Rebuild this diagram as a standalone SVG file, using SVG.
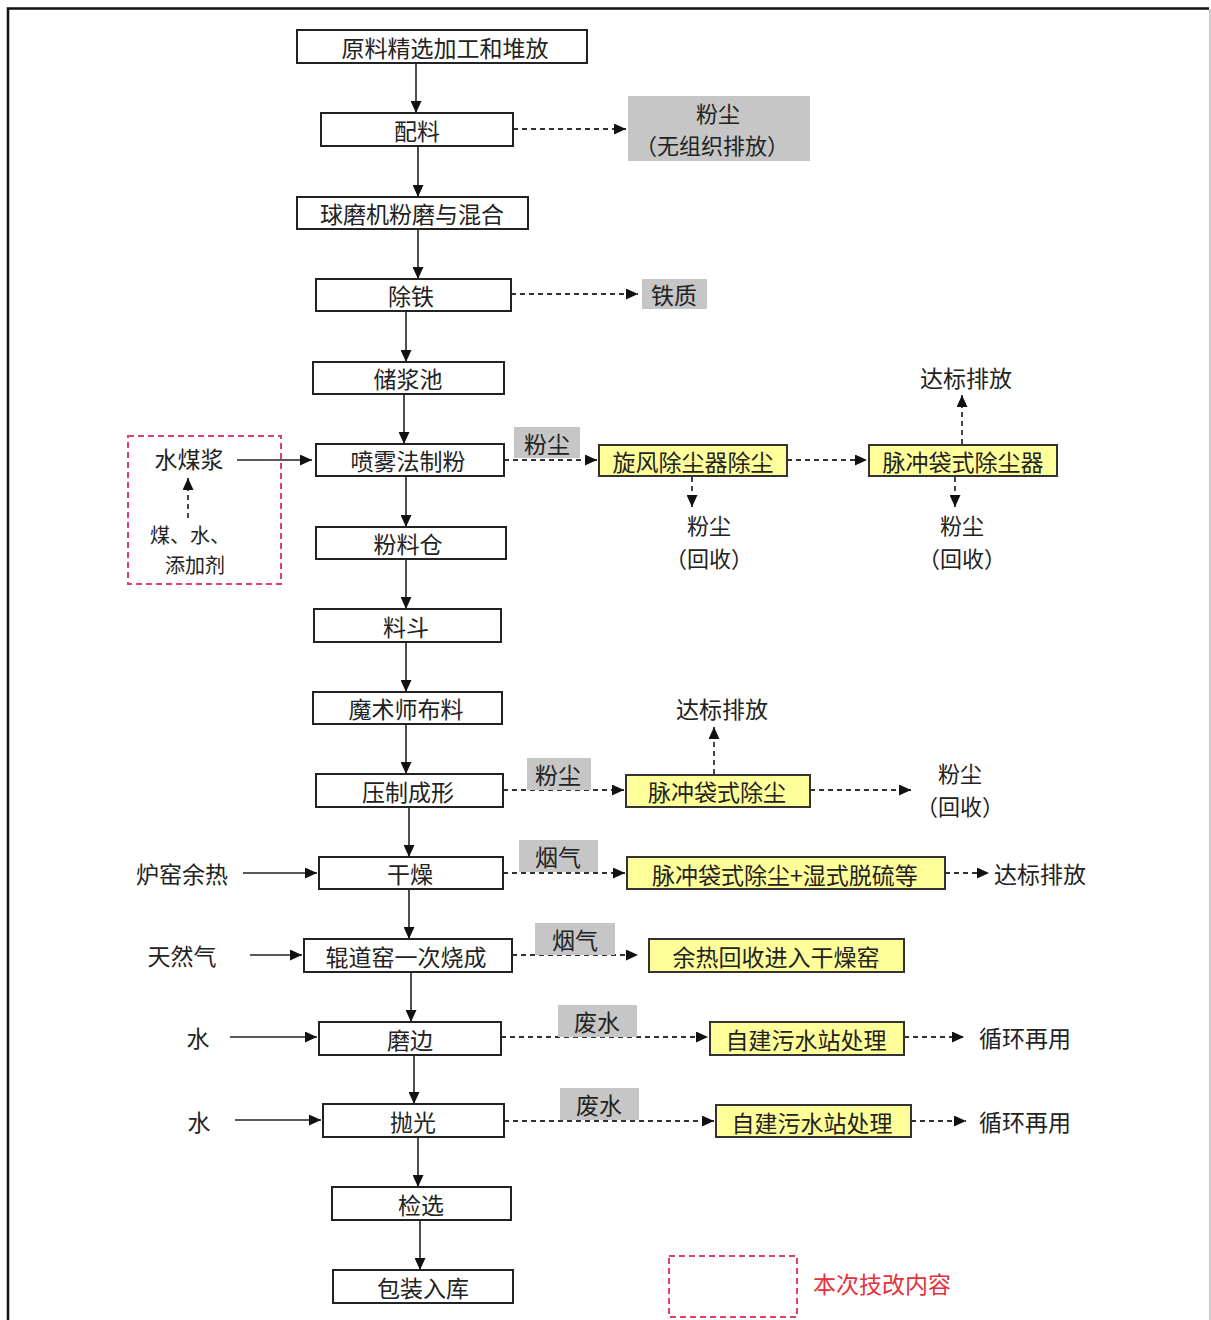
<svg xmlns="http://www.w3.org/2000/svg" width="1211" height="1320" viewBox="0 0 1211 1320">
<defs>
<marker id="ah" markerUnits="userSpaceOnUse" markerWidth="12" markerHeight="11" refX="12" refY="5.5" orient="auto">
<path d="M0,0 L12,5.5 L0,11 z" fill="#111"/>
</marker>
<style>
text{font-family:"Noto Sans CJK SC","Noto Sans",sans-serif;font-size:23px;fill:#222;text-anchor:middle;dominant-baseline:central}
.sm{font-size:20px}
.md{font-size:22px}
.box{fill:#fff;stroke:#222;stroke-width:2}
.yel{fill:#ffff99;stroke:#333;stroke-width:2}
.gray{fill:#c6c6c6;stroke:none}
.sol{stroke:#222;stroke-width:1.6;fill:none;marker-end:url(#ah)}
.dash{stroke:#333;stroke-width:1.8;fill:none;stroke-dasharray:5 4;marker-end:url(#ah)}
.red{fill:none;stroke:#e0406a;stroke-width:2;stroke-dasharray:6 4}
.redt{fill:#e8303a}
</style>
</defs>
<rect width="1211" height="1320" fill="#fff"/>
<path d="M8,1320 V8.5 H1209" fill="none" stroke="#111" stroke-width="2.5"/>
<path d="M1210,9 V1320" fill="none" stroke="#bbb" stroke-width="1.5"/>

<g id="connectors">
<path class="sol" d="M416,63 V113"/>
<path class="sol" d="M418,146 V197"/>
<path class="sol" d="M418,229 V279"/>
<path class="sol" d="M406,311 V362"/>
<path class="sol" d="M404,394 V444"/>
<path class="sol" d="M406,476 V527"/>
<path class="sol" d="M406,559 V609"/>
<path class="sol" d="M406,642 V692"/>
<path class="sol" d="M406,724 V774"/>
<path class="sol" d="M409,807 V857"/>
<path class="sol" d="M409,889 V939"/>
<path class="sol" d="M411,972 V1022"/>
<path class="sol" d="M414,1055 V1104"/>
<path class="sol" d="M418,1137 V1187"/>
<path class="sol" d="M420,1220 V1270"/>
<path class="dash" d="M513,129 H626"/>
<path class="dash" d="M511,294 H638"/>
<path class="sol" d="M237,460 H312"/>
<path class="dash" d="M188,518 V478"/>
<path class="dash" d="M504,460 H597"/>
<path class="dash" d="M787,460 H867"/>
<path class="dash" d="M962,444 V395"/>
<path class="dash" d="M692,477 V507"/>
<path class="dash" d="M955,477 V507"/>
<path class="dash" d="M503,790 H624"/>
<path class="dash" d="M714,774 V727"/>
<path class="dash" d="M810,790 H911"/>
<path class="sol" d="M243,873 H317"/>
<path class="dash" d="M503,873 H625"/>
<path class="dash" d="M945,873 H989"/>
<path class="sol" d="M250,955 H302"/>
<path class="dash" d="M512,955 H638"/>
<path class="sol" d="M230,1037 H317"/>
<path class="dash" d="M501,1037 H708"/>
<path class="dash" d="M904,1037 H964"/>
<path class="sol" d="M235,1120 H321"/>
<path class="dash" d="M504,1121 H714"/>
<path class="dash" d="M911,1121 H966"/>
</g>

<g id="n1"><rect class="box" x="297" y="30" width="290" height="33"/><text x="445" y="46.5">原料精选加工和堆放</text></g>
<g id="n2"><rect class="box" x="321" y="113" width="192" height="33"/><text x="417" y="129.5">配料</text></g>
<g id="n3"><rect class="box" x="297" y="197" width="231" height="32"/><text x="412" y="213">球磨机粉磨与混合</text></g>
<g id="n4"><rect class="box" x="316" y="279" width="195" height="32"/><text x="411" y="295">除铁</text></g>
<g id="n5"><rect class="box" x="313" y="362" width="191" height="32"/><text x="408" y="378">储浆池</text></g>
<g id="n6"><rect class="box" x="316" y="444" width="188" height="32"/><text x="408" y="460">喷雾法制粉</text></g>
<g id="n7"><rect class="box" x="316" y="527" width="190" height="32"/><text x="408" y="543">粉料仓</text></g>
<g id="n8"><rect class="box" x="314" y="609" width="187" height="33"/><text x="406" y="625.5">料斗</text></g>
<g id="n9"><rect class="box" x="313" y="692" width="189" height="32"/><text x="406" y="708">魔术师布料</text></g>
<g id="n10"><rect class="box" x="316" y="774" width="187" height="33"/><text x="408" y="790.5">压制成形</text></g>
<g id="n11"><rect class="box" x="319" y="857" width="184" height="32"/><text x="410" y="873">干燥</text></g>
<g id="n12"><rect class="box" x="304" y="939" width="208" height="33"/><text x="406" y="955.5">辊道窑一次烧成</text></g>
<g id="n13"><rect class="box" x="319" y="1022" width="182" height="33"/><text x="410" y="1038.5">磨边</text></g>
<g id="n14"><rect class="box" x="323" y="1104" width="181" height="33"/><text x="413" y="1120.5">抛光</text></g>
<g id="n15"><rect class="box" x="332" y="1187" width="179" height="33"/><text x="421" y="1203.5">检选</text></g>
<g id="n16"><rect class="box" x="333" y="1270" width="180" height="33"/><text x="423" y="1286.5">包装入库</text></g>

<g id="dust1"><rect class="gray" x="628" y="96" width="182" height="65"/><text class="md" x="718" y="112">粉尘</text><text class="md" x="712" y="144">（无组织排放）</text></g>
<g id="iron"><rect class="gray" x="642" y="279" width="65" height="30"/><text x="674" y="294">铁质</text></g>

<g id="slurry"><rect class="red" x="128" y="436" width="153" height="148"/><text x="189" y="458">水煤浆</text><text class="sm" x="190" y="534">煤、水、</text><text class="sm" x="195" y="564">添加剂</text></g>

<g id="dust2"><rect class="gray" x="514" y="427" width="66" height="31"/><text x="547" y="443">粉尘</text></g>
<g id="cyclone"><rect class="yel" x="599" y="445" width="188" height="31"/><text x="693" y="461">旋风除尘器除尘</text></g>
<g id="bag1"><rect class="yel" x="869" y="445" width="188" height="31"/><text x="963" y="461">脉冲袋式除尘器</text></g>
<g id="out1"><text x="966" y="377">达标排放</text></g>
<g id="rec1"><text class="md" x="709" y="524">粉尘</text><text class="md" x="709" y="557">（回收）</text></g>
<g id="rec2"><text class="md" x="962" y="524">粉尘</text><text class="md" x="962" y="557">（回收）</text></g>

<g id="dust3"><rect class="gray" x="527" y="758" width="64" height="32"/><text x="558" y="774">粉尘</text></g>
<g id="bag2"><rect class="yel" x="626" y="775" width="184" height="32"/><text x="717" y="791">脉冲袋式除尘</text></g>
<g id="out2"><text x="722" y="708">达标排放</text></g>
<g id="rec3"><text class="md" x="960" y="772">粉尘</text><text class="md" x="960" y="805">（回收）</text></g>

<g id="heat"><text x="182" y="873">炉窑余热</text></g>
<g id="smoke1"><rect class="gray" x="519" y="840" width="79" height="32"/><text x="558" y="856">烟气</text></g>
<g id="desulf"><rect class="yel" x="627" y="857" width="318" height="32"/><text x="785" y="874">脉冲袋式除尘+湿式脱硫等</text></g>
<g id="out3"><text x="1040" y="873">达标排放</text></g>

<g id="gas"><text x="182" y="955">天然气</text></g>
<g id="smoke2"><rect class="gray" x="535" y="923" width="80" height="32"/><text x="575" y="939">烟气</text></g>
<g id="heatrec"><rect class="yel" x="649" y="939" width="255" height="33"/><text x="776" y="956">余热回收进入干燥窑</text></g>

<g id="water1"><text x="198" y="1037">水</text></g>
<g id="ww1"><rect class="gray" x="558" y="1005" width="79" height="32"/><text x="597" y="1021">废水</text></g>
<g id="wwt1"><rect class="yel" x="710" y="1022" width="194" height="33"/><text x="806" y="1039">自建污水站处理</text></g>
<g id="reuse1"><text x="1025" y="1037">循环再用</text></g>

<g id="water2"><text x="199" y="1121">水</text></g>
<g id="ww2"><rect class="gray" x="560" y="1088" width="79" height="32"/><text x="599" y="1104">废水</text></g>
<g id="wwt2"><rect class="yel" x="716" y="1105" width="195" height="32"/><text x="812" y="1122">自建污水站处理</text></g>
<g id="reuse2"><text x="1025" y="1121">循环再用</text></g>

<g id="legend"><rect class="red" x="669" y="1256" width="128" height="61"/><text class="redt" x="882" y="1283">本次技改内容</text></g>
</svg>
